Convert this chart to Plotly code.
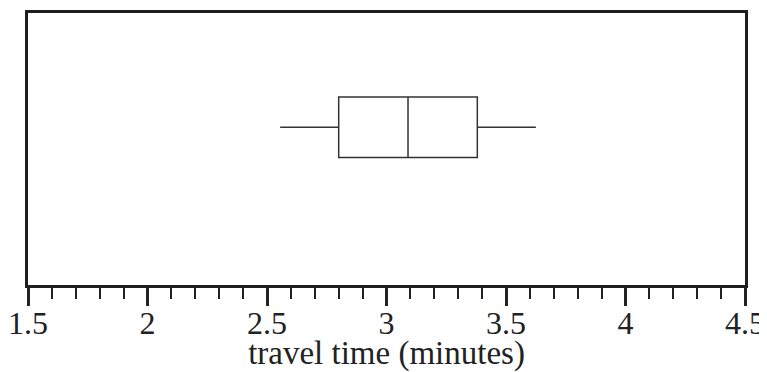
import plotly.graph_objects as go

# Data (travel time in minutes)
lower_whisker = [2.555]
q1 = [2.80]
median = [3.09]
q3 = [3.38]
upper_whisker = [3.625]
tick_vals = [1.5, 2, 2.5, 3, 3.5, 4, 4.5]
tick_text = ["1.5", "2", "2.5", "3", "3.5", "4", "4.5"]
x_title = "travel time (minutes)"

fig = go.Figure()
fig.add_trace(go.Box(
    orientation="h",
    y=[0.58],
    q1=q1, median=median, q3=q3,
    lowerfence=lower_whisker, upperfence=upper_whisker,
    width=0.222,
    whiskerwidth=0,
    fillcolor="rgba(0,0,0,0)",
    line=dict(color="#333333", width=1.5),
    hoverinfo="skip",
    showlegend=False,
))

serif = "Liberation Serif"
fig.update_layout(
    width=759, height=364,
    margin=dict(l=20, r=22, t=5, b=87),
    paper_bgcolor="white", plot_bgcolor="white",
    font=dict(family=serif, color="#222222", size=32),
    xaxis=dict(
        range=[1.5, 4.5], automargin=False,
        tickvals=tick_vals, ticktext=tick_text,
        ticks="outside", ticklen=18, tickwidth=3, tickcolor="#222222",
        ticklabelstandoff=-10,
        showline=True, linecolor="#1e1e1e", linewidth=3, mirror=True,
        showgrid=False, zeroline=False,
        minor=dict(dtick=0.1, tick0=1.5, ticks="outside", ticklen=11, tickwidth=1.5,
                   tickcolor="#222222", showgrid=False),
        tickfont=dict(family=serif, size=32, color="#222222"),
        title=dict(text=x_title, font=dict(family=serif, size=33, color="#222222"), standoff=8),
    ),
    yaxis=dict(
        range=[0, 1], automargin=False,
        showticklabels=False, ticks="",
        showline=True, linecolor="#1e1e1e", linewidth=3, mirror=True,
        showgrid=False, zeroline=False,
    ),
)

fig.write_html("out.html")
